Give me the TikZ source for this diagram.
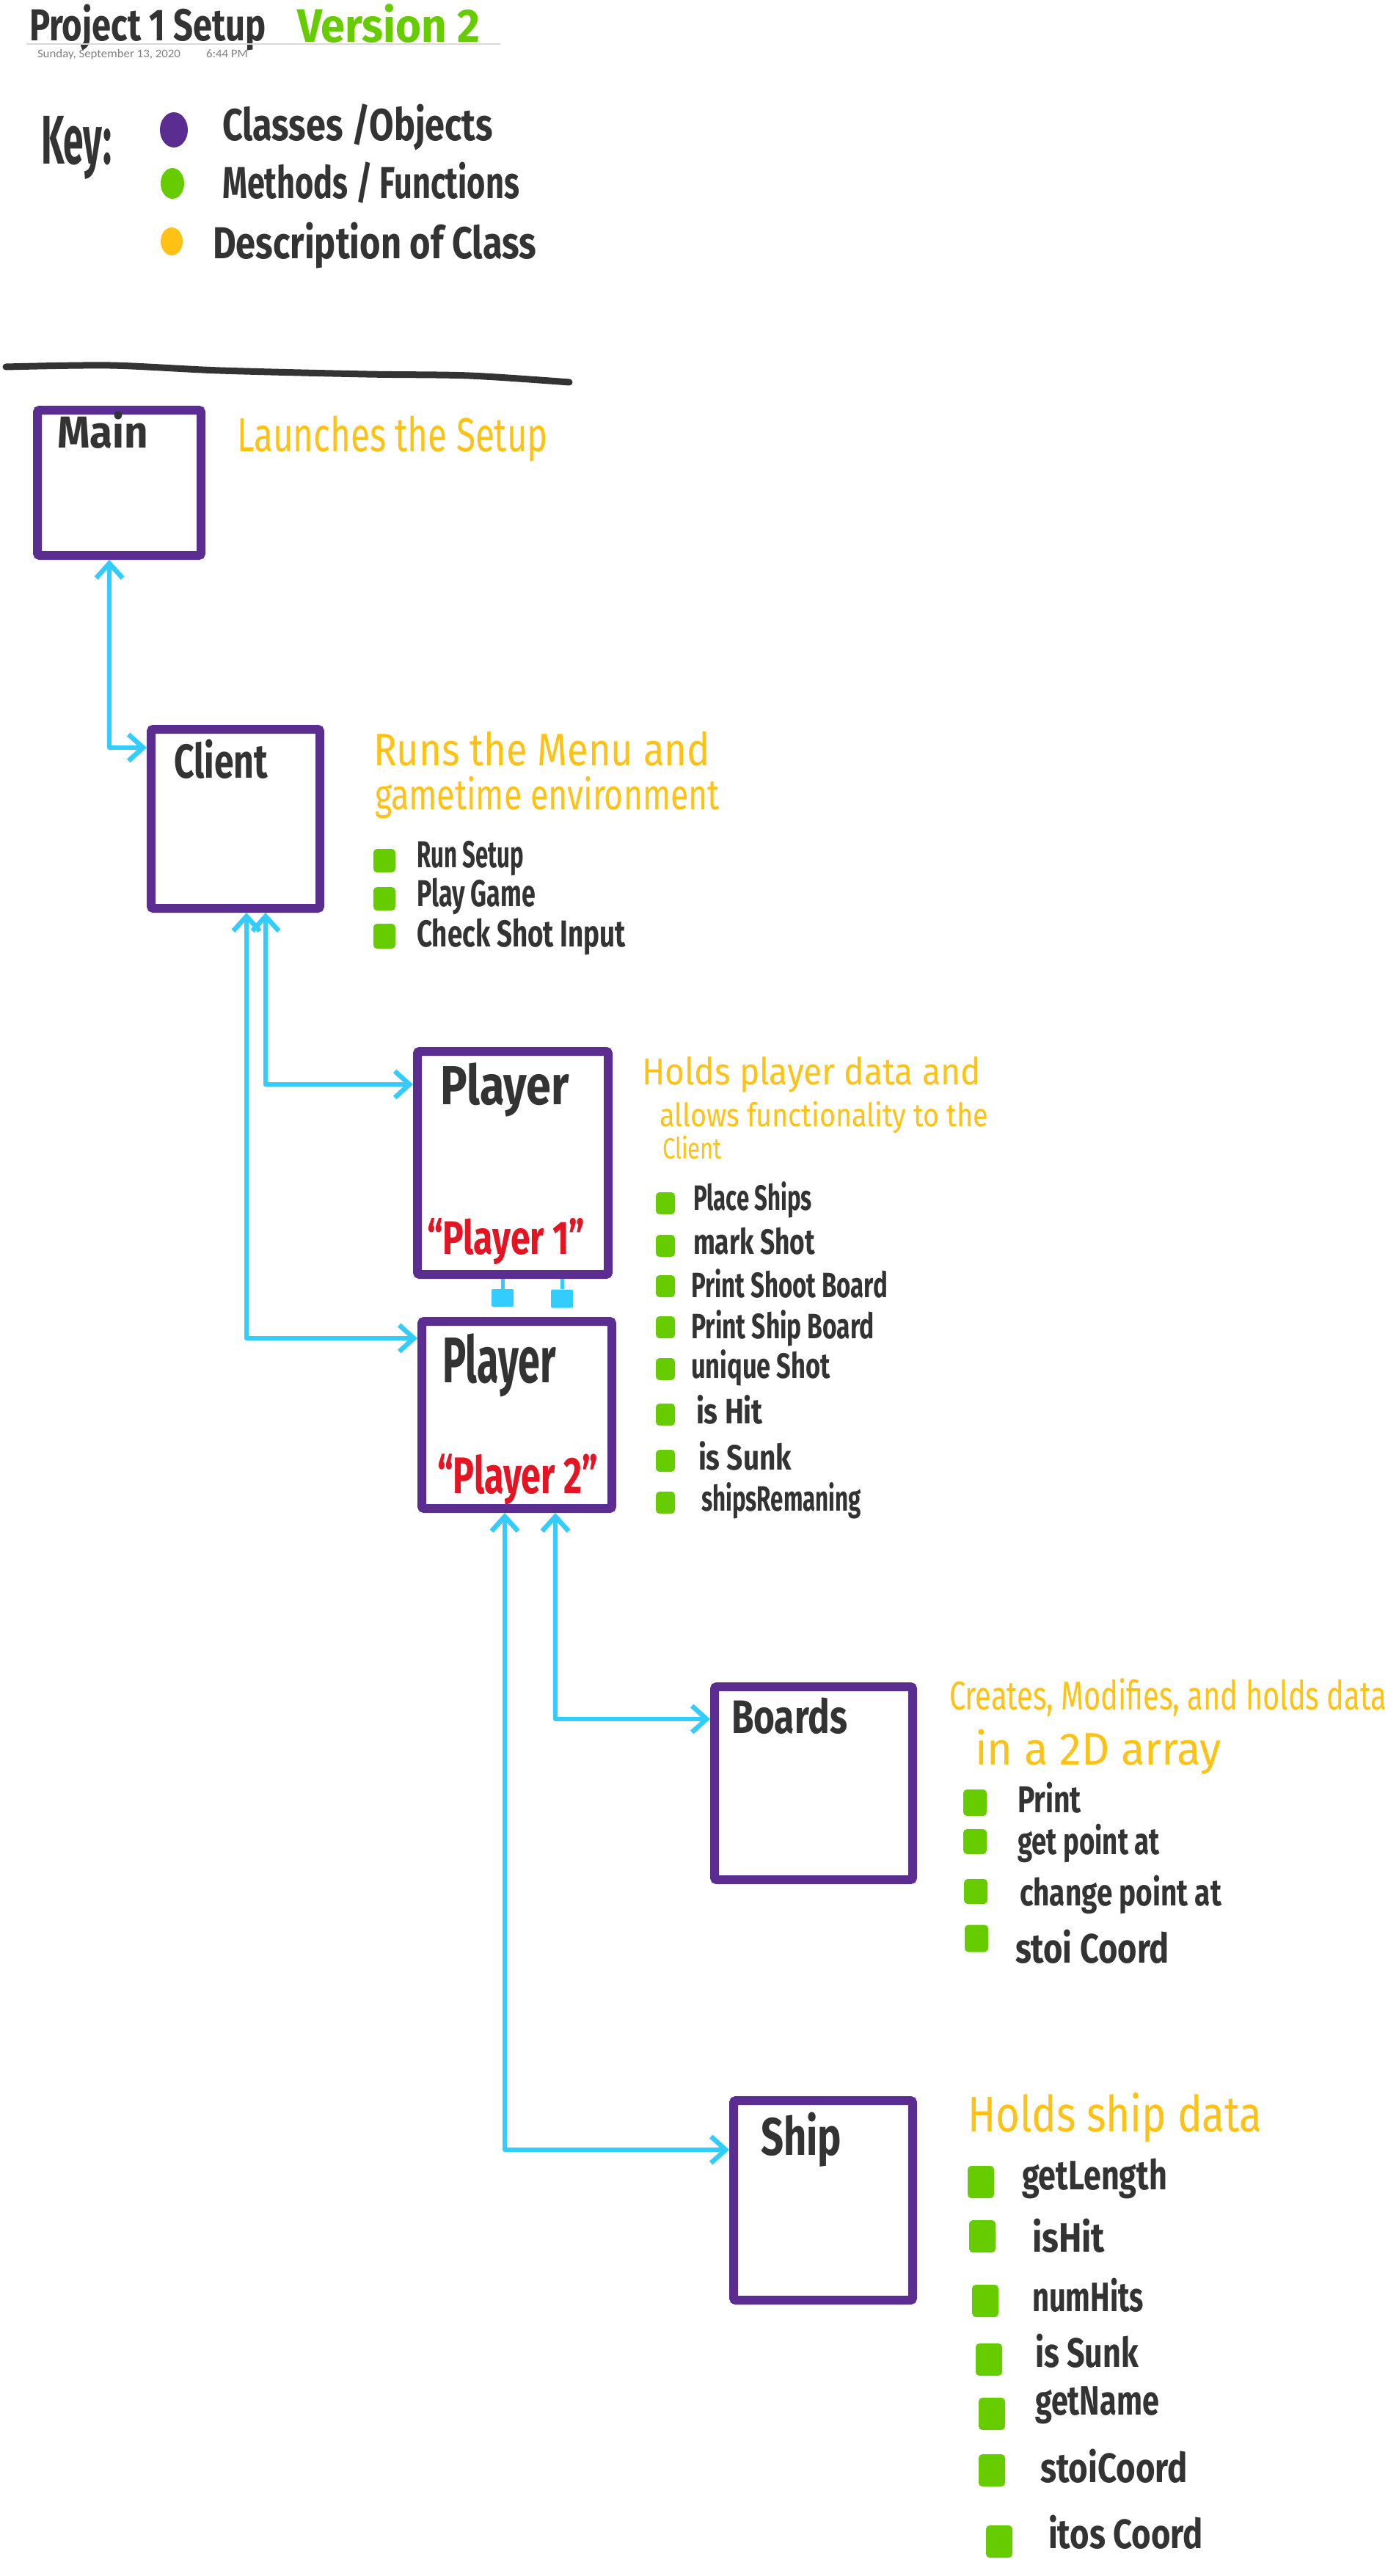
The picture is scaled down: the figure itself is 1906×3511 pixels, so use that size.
\documentclass[tikz,border=0pt]{standalone}
\usepackage{fontspec}
\setmainfont{Fira Sans}
\newfontfamily\datefont{Carlito}
\usetikzlibrary{arrows.meta}
\definecolor{cpurple}{RGB}{92,45,145}
\definecolor{cgreen}{RGB}{102,204,0}
\definecolor{corange}{RGB}{255,193,20}
\definecolor{cblue}{RGB}{51,204,255}
\definecolor{cdark}{RGB}{51,51,51}
\definecolor{cred}{RGB}{228,20,35}
\definecolor{cgray}{RGB}{128,128,128}
\newcommand\fitw[2]{\resizebox{#1pt}{\height}{#2}}
\newcommand\fs[1]{\fontsize{#1}{#1}\selectfont}
\tikzset{
  box/.style={draw=cpurple, line width=12pt, rounded corners=3pt, inner sep=0pt},
  txt/.style={anchor=base west, inner sep=0pt, outer sep=0pt},
  lab/.style={txt, text=cdark},
  desc/.style={txt, text=corange},
  bul/.style={fill=cgreen, rounded corners=5pt, inner sep=0pt},
  conn/.style={draw=cblue, line width=6.5pt, line cap=round, line join=round,
    {Straight Barb[length=20pt,width=36pt]}-{Straight Barb[length=20pt,width=36pt]}},
  stem/.style={draw=cblue, line width=5pt},
  sq/.style={fill=cblue, inner sep=0pt, rounded corners=2pt},
}
\begin{document}
\begin{tikzpicture}[x=1pt,y=-1pt]
\useasboundingbox (0,0) rectangle (1906,3511);
% ---------- header ----------
\node[lab, font=\bfseries\fs{61}] (title) at (40,56) {\fitw{323}{Project 1 Setup}};
\node[txt, text=cgreen, font=\bfseries\fs{64}] (version) at (405,58) {\fitw{249}{Version 2}};
\draw[draw=black!15, line width=2pt] (36,60) -- (682,60);
\node[txt, text=cgray, font=\datefont\fs{16}] (date) at (51,79) {\fitw{195}{Sunday, September 13, 2020}};
\node[txt, text=cgray, font=\datefont\fs{16}] (time) at (281,79) {\fitw{57}{6:44 PM}};
% ---------- key ----------
\node[lab, font=\bfseries\fs{94}] (key) at (56,224) {\fitw{96}{Key:}};
\fill[cpurple] (237,177) ellipse [x radius=19pt, y radius=24pt];
\fill[cgreen] (235,250) ellipse [x radius=16pt, y radius=21pt];
\fill[corange] (234,329) ellipse [x radius=15pt, y radius=19pt];
\node[lab, font=\bfseries\fs{61}] (k1) at (303,192) {\fitw{369}{Classes /Objects}};
\node[lab, font=\bfseries\fs{61}] (k2) at (303,270) {\fitw{405}{Methods / Functions}};
\node[lab, font=\bfseries\fs{61}] (k3) at (290,352) {\fitw{441}{Description of Class}};
\draw[cdark, line width=9pt, line cap=round] plot[smooth] coordinates {(8,500) (150,498) (300,505) (500,510) (640,512) (776,521)};
% ---------- boxes ----------
\node[box, minimum width=223pt, minimum height=198pt] (main) at (162.5,658) {};
\node[box, minimum width=230pt, minimum height=244pt] (client) at (321,1116) {};
\node[box, minimum width=260pt, minimum height=304pt] (p1) at (699,1585) {};
\node[box, minimum width=259pt, minimum height=255pt] (p2) at (704.5,1928.5) {};
\node[box, minimum width=270pt, minimum height=263pt] (boards) at (1109,2430.5) {};
\node[box, minimum width=244pt, minimum height=272pt] (ship) at (1122,2999) {};
% ---------- connectors ----------
\coordinate (b1) at (149,1019);
\coordinate (b2) at (362,1478);
\coordinate (b3) at (336,1824);
\coordinate (b4) at (757,2343);
\coordinate (b5) at (688,2930);
\draw[conn] (b1 |- main.south) -- (b1) -- (b1 -| client.west);
\draw[conn] (b2 |- client.south) -- (b2) -- (b2 -| p1.west);
\draw[conn] (b3 |- client.south) -- (b3) -- (b3 -| p2.west);
\draw[conn] (b4 |- p2.south) -- (b4) -- (b4 -| boards.west);
\draw[conn] (b5 |- p2.south) -- (b5) -- (b5 -| ship.west);
\node[sq, minimum width=30pt, minimum height=24pt] (sq1) at (685,1769) {};
\node[sq, minimum width=30pt, minimum height=25pt] (sq2) at (766,1770) {};
\draw[stem] (sq1.north) -- (sq1.north |- p1.south);
\draw[stem] (sq2.north) -- (sq2.north |- p1.south);
% ---------- Main ----------
\node[lab, font=\bfseries\fs{61}] (tmain) at (78,610) {\fitw{124}{Main}};
\node[desc, font=\fs{65}] (dmain) at (323,615) {\fitw{424}{Launches the Setup}};
% ---------- Client ----------
\node[lab, font=\bfseries\fs{65}] (tclient) at (237,1060) {\fitw{128}{Client}};
\node[desc, font=\fs{62}] (dc1) at (509,1043) {\fitw{459}{Runs the Menu and}};
\node[desc, font=\fs{58}] (dc2) at (511,1103) {\fitw{470}{gametime environment}};
\node[bul, minimum width=30pt, minimum height=32pt] (cb1) at (524,1173) {};
\node[bul, minimum width=30pt, minimum height=32pt] (cb2) at (524,1225) {};
\node[bul, minimum width=30pt, minimum height=34pt] (cb3) at (524,1276) {};
\node[lab, font=\bfseries\fs{51}] (cm1) at (568,1182) {\fitw{146}{Run Setup}};
\node[lab, font=\bfseries\fs{51}] (cm2) at (568,1235) {\fitw{162}{Play Game}};
\node[lab, font=\bfseries\fs{51}] (cm3) at (568,1290) {\fitw{285}{Check Shot Input}};
% ---------- Player ----------
\node[lab, font=\bfseries\fs{75}] (tp1) at (600,1505) {\fitw{176}{Player}};
\node[txt, text=cred, font=\bfseries\fs{64}] (rp1) at (582,1709) {\fitw{215}{“Player 1”}};
\node[lab, font=\bfseries\fs{88}] (tp2) at (603,1884) {\fitw{155}{Player}};
\node[txt, text=cred, font=\bfseries\fs{70}] (rp2) at (596,2035) {\fitw{219}{“Player 2”}};
\node[desc, font=\fs{51}] (dp1) at (875,1478) {\fitw{462}{Holds player data and}};
\node[desc, font=\fs{44}] (dp2) at (899,1535) {\fitw{448}{allows functionality to the}};
\node[desc, font=\fs{40}] (dp3) at (903,1579) {\fitw{81}{Client}};
\foreach \i/\y in {1/1640,2/1698,3/1753,4/1809,5/1866,6/1928,7/1991,8/2048}
  \node[bul, minimum width=26pt, minimum height=30pt] (pb\i) at (907,\y) {};
\node[lab, font=\bfseries\fs{48}] (pm1) at (945,1649) {\fitw{162}{Place Ships}};
\node[lab, font=\bfseries\fs{48}] (pm2) at (945,1709) {\fitw{166}{mark Shot}};
\node[lab, font=\bfseries\fs{48}] (pm3) at (942,1768) {\fitw{268}{Print Shoot Board}};
\node[lab, font=\bfseries\fs{48}] (pm4) at (942,1824) {\fitw{250}{Print Ship Board}};
\node[lab, font=\bfseries\fs{48}] (pm5) at (942,1878) {\fitw{190}{unique Shot}};
\node[lab, font=\bfseries\fs{48}] (pm6) at (949,1940) {\fitw{91}{is Hit}};
\node[lab, font=\bfseries\fs{48}] (pm7) at (952,2003) {\fitw{127}{is Sunk}};
\node[lab, font=\bfseries\fs{48}] (pm8) at (956,2059) {\fitw{218}{shipsRemaning}};
% ---------- Boards ----------
\node[lab, font=\bfseries\fs{64}] (tboards) at (997,2362) {\fitw{158}{Boards}};
\node[desc, font=\fs{55}] (db1) at (1294,2330) {\fitw{596}{Creates, Modifies, and holds data}};
\node[desc, font=\fs{62}] (db2) at (1329,2405) {\fitw{336}{in a 2D array}};
\node[bul, minimum width=32pt, minimum height=36pt] (bb1) at (1329,2457) {};
\node[bul, minimum width=32pt, minimum height=34pt] (bb2) at (1329,2510) {};
\node[bul, minimum width=32pt, minimum height=34pt] (bb3) at (1330,2578) {};
\node[bul, minimum width=32pt, minimum height=37pt] (bb4) at (1331,2642) {};
\node[lab, font=\bfseries\fs{51}] (bm1) at (1387,2470) {\fitw{87}{Print}};
\node[lab, font=\bfseries\fs{51}] (bm2) at (1387,2527) {\fitw{194}{get point at}};
\node[lab, font=\bfseries\fs{51}] (bm3) at (1390,2597) {\fitw{275}{change point at}};
\node[lab, font=\bfseries\fs{56}] (bm4) at (1384,2675) {\fitw{210}{stoi Coord}};
% ---------- Ship ----------
\node[lab, font=\bfseries\fs{72}] (tship) at (1037,2937) {\fitw{110}{Ship}};
\node[desc, font=\fs{68}] (ds1) at (1319,2905) {\fitw{401}{Holds ship data}};
\foreach \i/\x/\y in {1/1337/2974,2/1339/3048,3/1343/3136,4/1348/3216,5/1352/3290,6/1352/3367,7/1362/3464}
  \node[bul, minimum width=36pt, minimum height=44pt] (sb\i) at (\x,\y) {};
\node[lab, font=\bfseries\fs{56}] (sm1) at (1393,2984) {\fitw{198}{getLength}};
\node[lab, font=\bfseries\fs{56}] (sm2) at (1407,3069) {\fitw{99}{isHit}};
\node[lab, font=\bfseries\fs{56}] (sm3) at (1407,3150) {\fitw{152}{numHits}};
\node[lab, font=\bfseries\fs{56}] (sm4) at (1411,3226) {\fitw{141}{is Sunk}};
\node[lab, font=\bfseries\fs{56}] (sm5) at (1411,3291) {\fitw{169}{getName}};
\node[lab, font=\bfseries\fs{56}] (sm6) at (1418,3383) {\fitw{201}{stoiCoord}};
\node[lab, font=\bfseries\fs{56}] (sm7) at (1429,3473) {\fitw{211}{itos Coord}};
\end{tikzpicture}
\end{document}
